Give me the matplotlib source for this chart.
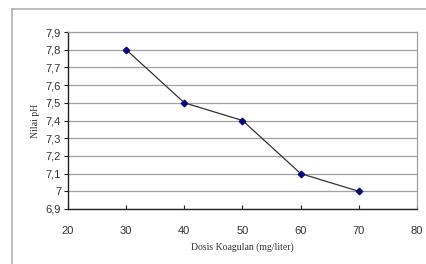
import matplotlib
matplotlib.use("Agg")
import matplotlib.pyplot as plt
from matplotlib.lines import Line2D

dosis = [30, 40, 50, 60, 70]
ph = [7.8, 7.5, 7.4, 7.1, 7.0]
x_ticks = [20, 30, 40, 50, 60, 70, 80]
y_ticks = [6.9, 7.0, 7.1, 7.2, 7.3, 7.4, 7.5, 7.6, 7.7, 7.8, 7.9]
y_labels = ["6,9", "7", "7,1", "7,2", "7,3", "7,4", "7,5", "7,6", "7,7", "7,8", "7,9"]

W, H = 427, 264
fig = plt.figure(figsize=(W / 100, H / 100), dpi=100)
ax = fig.add_axes([68 / W, 1 - 209 / H, (417 - 68) / W, (209 - 32) / H])

# outer frame
fig.add_artist(Line2D([12 / W, 12 / W], [0, 1 - 9 / H], color="#b0b0b0", lw=1.2))
fig.add_artist(Line2D([12 / W, 1], [1 - 9 / H, 1 - 9 / H], color="#b0b0b0", lw=1.2))

ax.plot(dosis, ph, color="#333333", lw=0.9, marker="D", markersize=3.3,
        markerfacecolor="#0a0a80", markeredgecolor="#0a0a80", zorder=3)

ax.set_xlim(20, 80)
ax.set_ylim(6.9, 7.9)
ax.set_xticks(x_ticks)
ax.set_yticks(y_ticks)
ax.set_yticklabels(y_labels)
ax.yaxis.grid(True, color="#a0a0a0", lw=0.9)
ax.set_axisbelow(True)

for s in ["top", "right"]:
    ax.spines[s].set_color("#a0a0a0")
    ax.spines[s].set_linewidth(0.9)
for s in ["left", "bottom"]:
    ax.spines[s].set_color("#222222")
    ax.spines[s].set_linewidth(1.0)

ax.tick_params(axis="x", direction="in", length=3, width=0.8, pad=12,
               labelsize=8, labelcolor="#333333", color="#222222")
ax.tick_params(axis="y", direction="out", length=3, width=0.8, pad=2,
               labelsize=8, labelcolor="#333333", color="#222222")
for lab in ax.get_xticklabels() + ax.get_yticklabels():
    lab.set_family("Liberation Sans")

ax.set_xlabel("Dosis Koagulan (mg/liter)", family="Liberation Serif", fontsize=7,
              color="#333333", labelpad=5)
ax.set_ylabel("Nilai pH", family="Liberation Serif", fontsize=7,
              color="#333333", labelpad=4)

fig.savefig("out.png", dpi=100)
